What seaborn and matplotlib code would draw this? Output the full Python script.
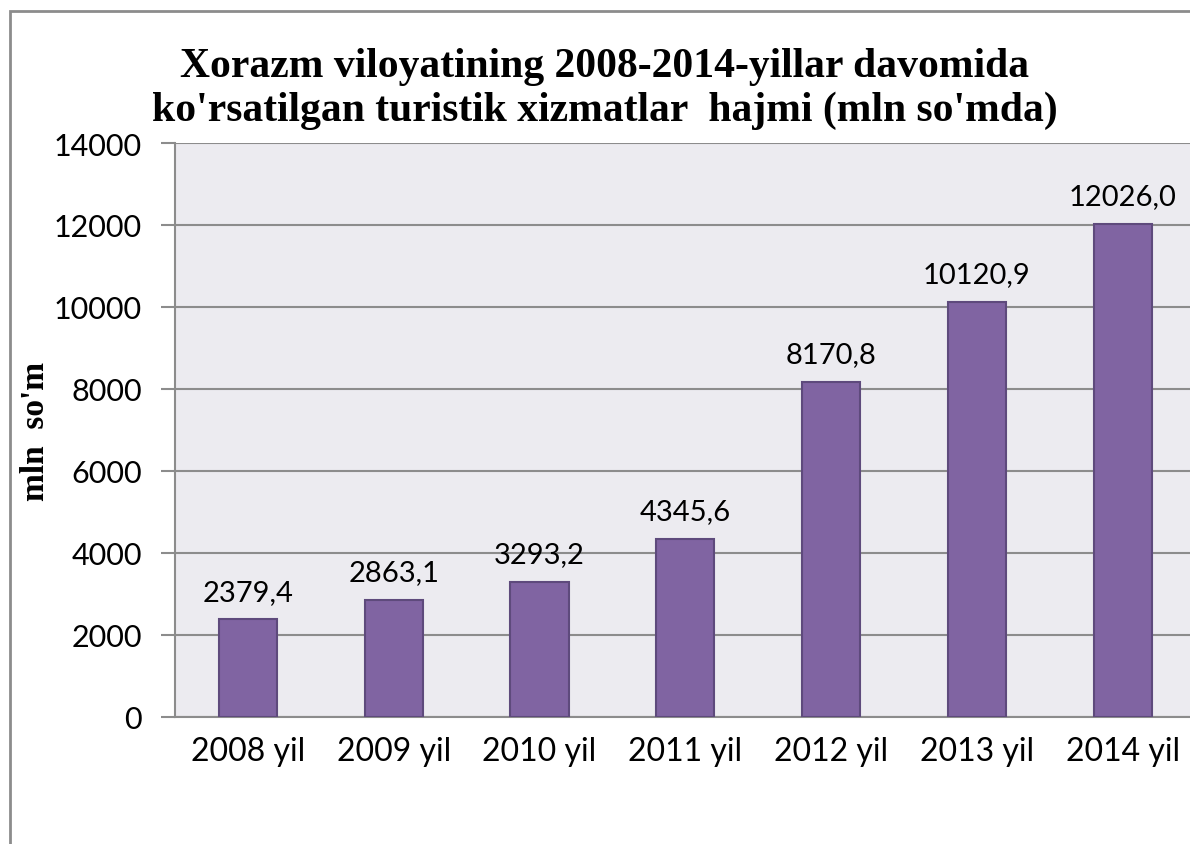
import seaborn as sns
import matplotlib.pyplot as plt
import matplotlib.patches as mpatches
import pandas as pd

# data
years = ['2008 yil', '2009 yil', '2010 yil', '2011 yil', '2012 yil', '2013 yil', '2014 yil']
values = [2379.4, 2863.1, 3293.2, 4345.6, 8170.8, 10120.9, 12026.0]
yticks = [0, 2000, 4000, 6000, 8000, 10000, 12000, 14000]

df = pd.DataFrame({'year': years, 'value': values})

sns.set_style('white')
plt.rcParams['font.family'] = ['Lato', 'DejaVu Sans']
plt.rcParams['text.color'] = 'black'
plt.rcParams['xtick.color'] = 'black'
plt.rcParams['ytick.color'] = 'black'
plt.rcParams['axes.labelcolor'] = 'black'

fig = plt.figure(figsize=[11.9, 8.45], dpi=100)
ax = fig.add_axes([175/1190, 127/845, 1020.6/1190, 574/845])
ax.set_facecolor('#ECEBF0')

sns.barplot(x='year', y='value', data=df, color='#8064A2', saturation=1,
            width=0.4, edgecolor='#5E4A7C', linewidth=1.5, ax=ax, zorder=3)

for i, v in enumerate(values):
    ax.text(i, v + 360, f'{v:.1f}'.replace('.', ','), ha='center', va='bottom',
            fontsize=21, color='black')

ax.set_ylim(0, 14000)
ax.set_xlim(-0.5, 6.5)
ax.set_yticks(yticks)
ax.set_yticklabels([str(t) for t in yticks], fontsize=22)
ax.tick_params(axis='y', length=10, width=1.5, color='#8c8c8c', pad=14, left=True)
ax.tick_params(axis='x', length=0, pad=14, labelsize=23)
ax.yaxis.grid(True, color='#8c8c8c', linewidth=1.5, zorder=0)
ax.set_axisbelow(True)
for s in ['top', 'right']:
    ax.spines[s].set_visible(False)
ax.spines['left'].set_color('#8c8c8c')
ax.spines['left'].set_linewidth(1.5)
ax.spines['bottom'].set_color('#8c8c8c')
ax.spines['bottom'].set_linewidth(1.5)
ax.set_xlabel('')
ax.set_ylabel("mln  so'm", fontsize=24, fontweight='bold',
              family=['Liberation Serif'], labelpad=2)

fig.text(605/1190, 1 - 89/845,
         "Xorazm viloyatining 2008-2014-yillar davomida\nko'rsatilgan turistik xizmatlar  hajmi (mln so'mda)",
         ha='center', va='center', fontsize=30, fontweight='bold',
         family=['Liberation Serif'], linespacing=1.2)

# outer chart frame (cut off on right and bottom)
frame = mpatches.Rectangle((10/1190, -0.1), 1.2, 1 - 12/845 + 0.1,
                           transform=fig.transFigure, fill=False,
                           edgecolor='#8c8c8c', linewidth=2)
fig.patches.append(frame)

plt.savefig('out.png', dpi=100)
